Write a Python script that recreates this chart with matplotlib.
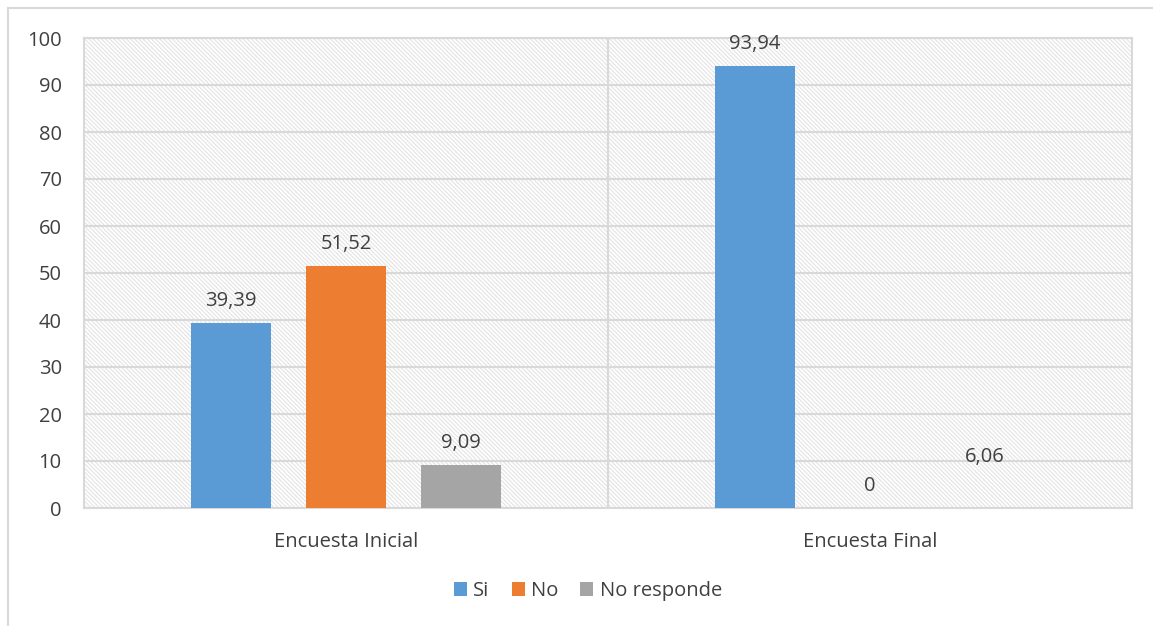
"""Bar chart: Encuesta Inicial vs Encuesta Final"""
import numpy as np
import matplotlib.pyplot as plt
from matplotlib.patches import Rectangle
from matplotlib.lines import Line2D

categories = ['Encuesta Inicial', 'Encuesta Final']
series = ['Si', 'No', 'No responde']
si_vals = [39.39, 93.94]
no_vals = [51.52, 0]
nr_vals = [9.09, 6.06]
labels = {
    'Si': ['39,39', '93,94'],
    'No': ['51,52', '0'],
    'No responde': ['9,09', '6,06'],
}
colors = ['#5b9bd5', '#ed7d31', '#a5a5a5']

plt.rcParams['font.family'] = ['Open Sans', 'DejaVu Sans']
plt.rcParams['hatch.linewidth'] = 0.8
text_color = '#404040'
grid_color = '#d9d9d9'
fs = 14.5

fig = plt.figure(figsize=(11.53, 6.26), dpi=100)
ax = fig.add_axes([84 / 1153, 1 - 508 / 626, 1048 / 1153, 470 / 626])

# outer chart frame (only top and left visible)
fig.add_artist(Line2D([8 / 1153, 1.0], [1 - 8 / 626] * 2, color=grid_color, lw=1.5))
fig.add_artist(Line2D([8 / 1153] * 2, [0.0, 1 - 8 / 626], color=grid_color, lw=1.5))

# hatched plot area background
ax.add_patch(Rectangle((0, 0), 1, 1, transform=ax.transAxes, facecolor='white',
                       edgecolor='#e3e3e3', hatch='\\' * 8, linewidth=0, zorder=0))

x = np.arange(len(categories))
width = 80 / 524
step = 115 / 524
values = [si_vals, no_vals, nr_vals]
for i, (name, vals, c) in enumerate(zip(series, values, colors)):
    pos = x + (i - 1) * step
    # the grey bar of the final survey is not drawn in the original
    face = [c, c] if name != 'No responde' else [c, 'none']
    ax.bar(pos, vals, width, color=face, label=name, zorder=3)
    for p, v, t in zip(pos, vals, labels[name]):
        ax.text(p, v + 2.6, t, ha='center', va='bottom', fontsize=fs, color=text_color, zorder=4)

ax.set_xlim(-0.5, 1.5)
ax.set_ylim(0, 100)
ax.set_yticks(np.arange(0, 101, 10))
ax.yaxis.grid(True, color=grid_color, lw=1.5, zorder=1)
ax.set_axisbelow(True)
ax.axvline(0.5, color=grid_color, lw=1.5, zorder=1)
ax.set_xticks(x)
ax.set_xticklabels(categories)
ax.tick_params(axis='both', length=0, labelsize=fs, labelcolor=text_color)
ax.tick_params(axis='x', pad=17)
ax.tick_params(axis='y', pad=16)
for s in ax.spines.values():
    s.set_color(grid_color)
    s.set_linewidth(1.5)

fig.legend(loc='center', bbox_to_anchor=(588 / 1153, 1 - 591 / 626), ncol=3, frameon=False,
           fontsize=fs, labelcolor=text_color, handlelength=0.65, handleheight=0.65,
           handletextpad=0.3, columnspacing=1.1)

fig.savefig('out.png', dpi=100)
